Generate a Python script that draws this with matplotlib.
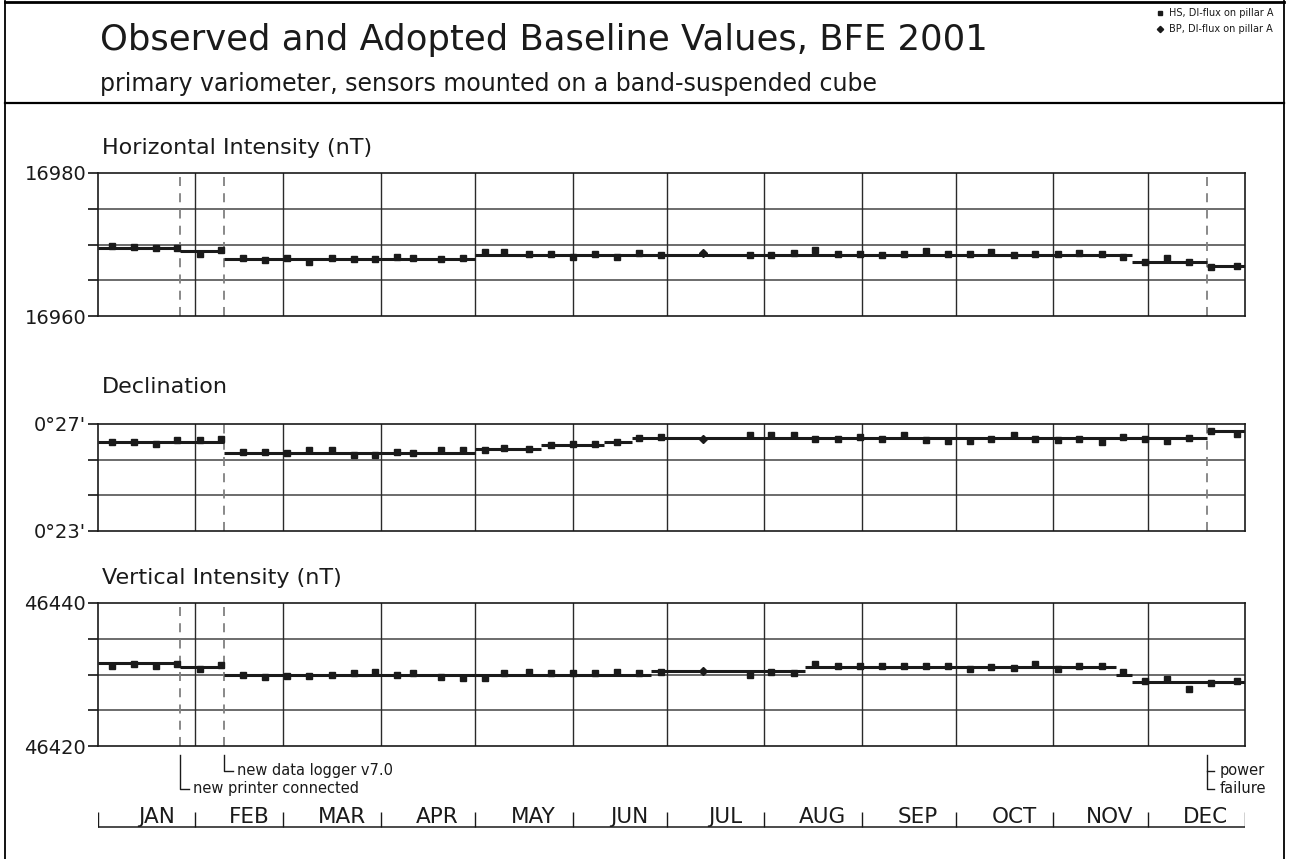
import numpy as np
import matplotlib.pyplot as plt

plt.rcParams['font.family'] = ['DejaVu Sans']

W, H = 1289, 859
fig = plt.figure(figsize=(W / 100, H / 100), dpi=100)

# calendar 2001, x axis is day of year
month_names = ["JAN", "FEB", "MAR", "APR", "MAY", "JUN",
               "JUL", "AUG", "SEP", "OCT", "NOV", "DEC"]
month_days = [31, 28, 31, 30, 31, 30, 31, 31, 30, 31, 30, 31]
month_edges = np.concatenate([[0], np.cumsum(month_days)])

# observation days (HS) and the single BP observation
hs_days = [4.3, 11.3, 18.3, 25.2, 32.3, 39.2, 46.3, 53.3, 60.3, 67.3, 74.4,
           81.4, 88.1, 95.1, 100.1, 109.1, 116.2, 123.1, 129.2, 137.1, 144.2,
           151.1, 158.2, 165.2, 172.2, 179.2,
           207.4, 214.3, 221.4, 228.3, 235.4, 242.4, 249.4, 256.4, 263.4,
           270.5, 277.5, 284.2, 291.5, 298.2, 305.5, 312.1, 319.5, 326.2,
           333.2, 340.3, 347.3, 354.3, 362.6]
bp_day = 192.4

# Horizontal intensity (nT)
h_hs = [16969.8, 16969.6, 16969.5, 16969.5, 16968.7, 16969.2, 16968.1,
        16967.9, 16968.1, 16967.5, 16968.1, 16968.0, 16968.0, 16968.3,
        16968.1, 16968.0, 16968.1, 16969.0, 16969.0, 16968.65, 16968.65,
        16968.2, 16968.65, 16968.3, 16968.8, 16968.5,
        16968.6, 16968.6, 16968.8, 16969.2, 16968.65, 16968.65, 16968.5,
        16968.65, 16969.1, 16968.65, 16968.65, 16969.0, 16968.5, 16968.65,
        16968.65, 16968.8, 16968.65, 16968.3, 16967.5, 16968.05, 16967.5,
        16966.8, 16967.0]
h_bp = 16968.85
h_base_start = [0, 26, 40, 120, 329, 353]
h_base_end = [26, 40, 120, 329, 353, 365]
h_base_val = [16969.5, 16969.05, 16968.0, 16968.5, 16967.5, 16967.0]

# Declination (arc minutes)
d_hs = [26.32, 26.33, 26.24, 26.39, 26.39, 26.45, 25.97, 25.97, 25.93, 26.02,
        26.02, 25.83, 25.85, 25.97, 25.93, 26.02, 26.02, 26.04, 26.12, 26.08,
        26.2, 26.24, 26.24, 26.32, 26.49, 26.53,
        26.58, 26.58, 26.58, 26.45, 26.43, 26.53, 26.45, 26.6, 26.4, 26.37,
        26.37, 26.43, 26.6, 26.43, 26.4, 26.45, 26.33, 26.53, 26.45, 26.37,
        26.49, 26.75, 26.63]
d_bp = 26.43
d_base_start = [0, 40, 120, 141, 161, 170, 353]
d_base_end = [40, 120, 141, 161, 170, 353, 365]
d_base_val = [26.33, 25.93, 26.08, 26.2, 26.33, 26.49, 26.75]

# Vertical intensity (nT)
z_hs = [46431.2, 46431.5, 46431.2, 46431.5, 46430.8, 46431.3, 46429.95,
        46429.6, 46429.8, 46429.8, 46429.95, 46430.15, 46430.3, 46429.95,
        46430.15, 46429.7, 46429.5, 46429.5, 46430.15, 46430.4, 46430.15,
        46430.15, 46430.15, 46430.3, 46430.15, 46430.4,
        46430.0, 46430.4, 46430.2, 46431.5, 46431.2, 46431.2, 46431.2,
        46431.2, 46431.2, 46431.2, 46430.8, 46431.1, 46430.9, 46431.4,
        46430.8, 46431.2, 46431.2, 46430.4, 46429.1, 46429.4, 46428.0,
        46428.8, 46429.1]
z_bp = 46430.55
z_base_start = [0, 26, 40, 176, 225, 324, 329]
z_base_end = [26, 40, 176, 225, 324, 329, 365]
z_base_val = [46431.55, 46431.0, 46429.95, 46430.55, 46431.0, 46430.0, 46429.0]

# events
ev_printer = 26
ev_logger = 40
ev_power = 353

INK = '#1a1a1a'


def px_axes(x0, y0, x1, y1):
    return fig.add_axes([x0 / W, 1 - y1 / H, (x1 - x0) / W, (y1 - y0) / H])


# background for frame and header text (pixel coordinates)
bg = fig.add_axes([0, 0, 1, 1], zorder=-5)
bg.set_xlim(0, W)
bg.set_ylim(H, 0)
bg.axis('off')
bg.plot([5, 5], [1, H], color='k', lw=1.3)
bg.plot([1284, 1284], [1, H], color='k', lw=1.3)
bg.plot([5, 1284], [1.5, 1.5], color='k', lw=2)
bg.plot([5, 1284], [103, 103], color='k', lw=1.6)
bg.text(100, 40, "Observed and Adopted Baseline Values, BFE 2001",
        fontsize=25.5, va='center', ha='left', color=INK)
bg.text(100, 84, "primary variometer, sensors mounted on a band-suspended cube",
        fontsize=17, va='center', ha='left', color=INK)
bg.plot([1160], [13], 's', color=INK, ms=3.5)
bg.plot([1160], [29], 'D', color=INK, ms=3.2)
bg.text(1169, 13, "HS, DI-flux on pillar A", fontsize=7, va='center', color=INK)
bg.text(1169, 29, "BP, DI-flux on pillar A", fontsize=7, va='center', color=INK)
bg.text(102, 148, "Horizontal Intensity (nT)", fontsize=16, va='center', color=INK)
bg.text(102, 387, "Declination", fontsize=16, va='center', color=INK)
bg.text(102, 578, "Vertical Intensity (nT)", fontsize=16, va='center', color=INK)


def panel(ax, vals, bp, bs, be, bv, ylo, yhi, nint, labels, dashes):
    ax.set_xlim(0, 365)
    ax.set_ylim(ylo, yhi)
    yt = np.linspace(ylo, yhi, nint + 1)
    ax.set_yticks(yt)
    ax.set_yticklabels([labels[0]] + [''] * (nint - 1) + [labels[1]])
    ax.set_xticks([])
    for y in yt[1:-1]:
        ax.axhline(y, color='#444444', lw=1.1, zorder=1)
    for d in month_edges[1:-1]:
        ax.axvline(d, color='#2a2a2a', lw=1.0, zorder=1)
    for d in dashes:
        ax.axvline(d, color='#808080', lw=1.3, ls=(0, (5, 4)), zorder=1)
    ax.hlines(bv, bs, be, color=INK, lw=2.2, zorder=3)
    ax.plot(hs_days, vals, 's', color=INK, ms=4.8, zorder=4)
    ax.plot([bp_day], [bp], 'D', color=INK, ms=4.2, zorder=4)
    ax.tick_params(axis='y', length=7.5, width=1.1, labelsize=14, pad=1,
                   labelcolor=INK)
    for s in ax.spines.values():
        s.set_linewidth(1.2)
        s.set_color(INK)


ax1 = px_axes(98, 173, 1245, 316)
panel(ax1, h_hs, h_bp, h_base_start, h_base_end, h_base_val,
      16960, 16980, 4, ["16960", "16980"], [ev_printer, ev_logger, ev_power])

ax2 = px_axes(98, 424, 1245, 531)
panel(ax2, d_hs, d_bp, d_base_start, d_base_end, d_base_val,
      23, 27, 3, ["0°23'", "0°27'"], [ev_logger, ev_power])

ax3 = px_axes(98, 603, 1245, 746)
panel(ax3, z_hs, z_bp, z_base_start, z_base_end, z_base_val,
      46420, 46440, 4, ["46420", "46440"], [ev_printer, ev_logger])

# event notes and month strip below the last panel (y in pixels)
an = px_axes(98, 746, 1245, 845)
an.set_xlim(0, 365)
an.set_ylim(845, 746)
an.axis('off')
an.plot([ev_printer, ev_printer, ev_printer + 3], [755, 789, 789], color=INK, lw=1)
an.text(ev_printer + 4.3, 789, "new printer connected", fontsize=10.5, va='center', color=INK)
an.plot([ev_logger, ev_logger, ev_logger + 3], [755, 771, 771], color=INK, lw=1)
an.text(ev_logger + 4.3, 771, "new data logger v7.0", fontsize=10.5, va='center', color=INK)
an.plot([ev_power, ev_power, ev_power + 2], [755, 789, 789], color=INK, lw=1)
an.plot([ev_power, ev_power + 2], [771, 771], color=INK, lw=1)
an.text(ev_power + 3.8, 771, "power", fontsize=10.5, va='center', color=INK)
an.text(ev_power + 3.8, 789, "failure", fontsize=10.5, va='center', color=INK)

an.plot([month_edges[0], month_edges[-1]], [827, 827], color=INK, lw=1.1)
an.vlines(month_edges, 812, 827, color=INK, lw=1.0)
for i, name in enumerate(month_names):
    mid = (month_edges[i] + month_edges[i + 1]) / 2 + 3
    an.text(mid, 817, name, fontsize=15.5, ha='center', va='center', color=INK)

fig.savefig("out.png", dpi=100)
